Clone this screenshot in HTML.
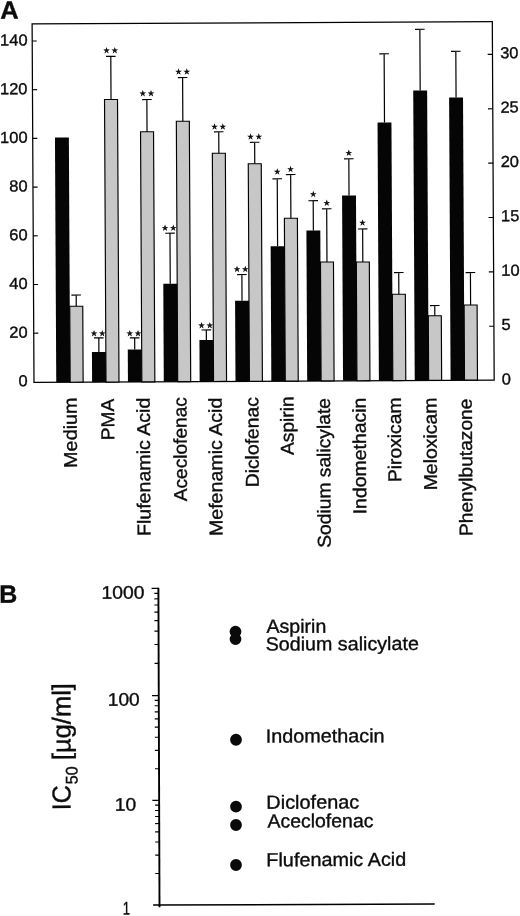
<!DOCTYPE html>
<html lang="en">
<head>
<meta charset="utf-8">
<title>Figure: NSAID effects (A) and IC50 values (B)</title>
<style>
html,body{margin:0;padding:0;background:#fff;}
body{width:520px;height:916px;overflow:hidden;}
svg{display:block;}
.t{font-family:"Liberation Sans", Arial, Helvetica, sans-serif;fill:#0c0c0c;stroke:#0c0c0c;stroke-width:0.36px;}
.s{font-family:"DejaVu Sans", "Liberation Sans", sans-serif;fill:#0c0c0c;stroke:#0c0c0c;stroke-width:0.5px;stroke-linejoin:miter;}
</style>
</head>
<body>
<svg width="520" height="916" viewBox="0 0 520 916">
<rect x="0" y="0" width="520" height="916" fill="#ffffff"/>
<g transform="rotate(-0.3 263.15 202.0)">
<rect x="33.05" y="22.75" width="460.20" height="358.50" fill="none" stroke="#000" stroke-width="1.25"/>
<text transform="translate(18.07 385.06) scale(1.0300 1)" x="-0.64" y="0" font-size="16" class="t">0</text>
<line x1="33.05" y1="332.00" x2="37.65" y2="332.00" stroke="#000" stroke-width="1.15"/>
<text transform="translate(9.34 336.36) scale(1.0300 1)" x="-0.80" y="0" font-size="16" class="t">20</text>
<line x1="33.05" y1="283.30" x2="37.65" y2="283.30" stroke="#000" stroke-width="1.15"/>
<text transform="translate(9.14 287.66) scale(1.0300 1)" x="-0.36" y="0" font-size="16" class="t">40</text>
<line x1="33.05" y1="234.60" x2="37.65" y2="234.60" stroke="#000" stroke-width="1.15"/>
<text transform="translate(9.85 238.96) scale(1.0300 1)" x="-0.80" y="0" font-size="16" class="t">60</text>
<line x1="33.05" y1="185.90" x2="37.65" y2="185.90" stroke="#000" stroke-width="1.15"/>
<text transform="translate(9.98 190.26) scale(1.0300 1)" x="-0.68" y="0" font-size="16" class="t">80</text>
<line x1="33.05" y1="137.20" x2="37.65" y2="137.20" stroke="#000" stroke-width="1.15"/>
<text transform="translate(1.59 141.56) scale(1.0300 1)" x="-1.20" y="0" font-size="16" class="t">100</text>
<line x1="33.05" y1="88.50" x2="37.65" y2="88.50" stroke="#000" stroke-width="1.15"/>
<text transform="translate(1.84 92.86) scale(1.0300 1)" x="-1.20" y="0" font-size="16" class="t">120</text>
<line x1="33.05" y1="39.80" x2="37.65" y2="39.80" stroke="#000" stroke-width="1.15"/>
<text transform="translate(2.10 44.17) scale(1.0300 1)" x="-1.20" y="0" font-size="16" class="t">140</text>
<text transform="translate(501.54 385.70) scale(1.0300 1)" x="-0.64" y="0" font-size="16" class="t">0</text>
<line x1="493.25" y1="327.44" x2="488.45" y2="327.44" stroke="#000" stroke-width="1.15"/>
<text transform="translate(501.54 331.33) scale(1.0300 1)" x="-0.64" y="0" font-size="16" class="t">5</text>
<line x1="493.25" y1="273.07" x2="488.45" y2="273.07" stroke="#000" stroke-width="1.15"/>
<text transform="translate(502.10 276.97) scale(1.0300 1)" x="-1.20" y="0" font-size="16" class="t">10</text>
<line x1="493.25" y1="218.71" x2="488.45" y2="218.71" stroke="#000" stroke-width="1.15"/>
<text transform="translate(502.10 222.61) scale(1.0300 1)" x="-1.20" y="0" font-size="16" class="t">15</text>
<line x1="493.25" y1="164.34" x2="488.45" y2="164.34" stroke="#000" stroke-width="1.15"/>
<text transform="translate(501.70 168.24) scale(1.0300 1)" x="-0.80" y="0" font-size="16" class="t">20</text>
<line x1="493.25" y1="109.98" x2="488.45" y2="109.98" stroke="#000" stroke-width="1.15"/>
<text transform="translate(501.70 113.88) scale(1.0300 1)" x="-0.80" y="0" font-size="16" class="t">25</text>
<line x1="493.25" y1="55.61" x2="488.45" y2="55.61" stroke="#000" stroke-width="1.15"/>
<text transform="translate(501.50 59.51) scale(1.0300 1)" x="-0.60" y="0" font-size="16" class="t">30</text>
<rect x="69.21" y="305.27" width="13.00" height="75.98" fill="#c7c7c7" stroke="#000" stroke-width="1.15"/>
<rect x="55.31" y="136.45" width="13.90" height="244.80" fill="#050505"/>
<path d="M75.71 305.27V294.02M70.91 294.02H80.51" stroke="#000" stroke-width="1.2" fill="none"/>
<rect x="105.06" y="98.71" width="13.00" height="282.54" fill="#c7c7c7" stroke="#000" stroke-width="1.15"/>
<rect x="91.16" y="351.14" width="13.90" height="30.11" fill="#050505"/>
<path d="M98.11 351.14V337.04M93.31 337.04H102.91" stroke="#000" stroke-width="1.2" fill="none"/>
<text x="93.26 101.56" y="334.89" text-anchor="middle" font-size="6.8" class="s">★★</text>
<path d="M111.56 98.71V55.51M106.76 55.51H116.36" stroke="#000" stroke-width="1.2" fill="none"/>
<text x="107.41 115.71" y="51.96" text-anchor="middle" font-size="6.8" class="s">★★</text>
<rect x="140.91" y="131.15" width="13.00" height="250.10" fill="#c7c7c7" stroke="#000" stroke-width="1.15"/>
<rect x="127.01" y="348.82" width="13.90" height="32.43" fill="#050505"/>
<path d="M133.96 348.82V337.22M129.16 337.22H138.76" stroke="#000" stroke-width="1.2" fill="none"/>
<text x="129.11 137.41" y="335.07" text-anchor="middle" font-size="6.8" class="s">★★</text>
<path d="M147.41 131.15V98.90M142.61 98.90H152.21" stroke="#000" stroke-width="1.2" fill="none"/>
<text x="143.26 151.56" y="95.15" text-anchor="middle" font-size="6.8" class="s">★★</text>
<rect x="176.76" y="120.84" width="13.00" height="260.41" fill="#c7c7c7" stroke="#000" stroke-width="1.15"/>
<rect x="162.86" y="283.26" width="13.90" height="97.99" fill="#050505"/>
<path d="M169.81 283.26V232.76M165.01 232.76H174.61" stroke="#000" stroke-width="1.2" fill="none"/>
<text x="164.96 173.26" y="229.76" text-anchor="middle" font-size="6.8" class="s">★★</text>
<path d="M183.26 120.84V77.09M178.46 77.09H188.06" stroke="#000" stroke-width="1.2" fill="none"/>
<text x="179.11 187.41" y="73.59" text-anchor="middle" font-size="6.8" class="s">★★</text>
<rect x="212.61" y="153.02" width="13.00" height="228.23" fill="#c7c7c7" stroke="#000" stroke-width="1.15"/>
<rect x="198.71" y="339.70" width="13.90" height="41.55" fill="#050505"/>
<path d="M205.66 339.70V329.70M200.86 329.70H210.46" stroke="#000" stroke-width="1.2" fill="none"/>
<text x="200.81 209.11" y="327.45" text-anchor="middle" font-size="6.8" class="s">★★</text>
<path d="M219.11 153.02V131.52M214.31 131.52H223.91" stroke="#000" stroke-width="1.2" fill="none"/>
<text x="214.96 223.26" y="128.77" text-anchor="middle" font-size="6.8" class="s">★★</text>
<rect x="248.46" y="163.71" width="13.00" height="217.54" fill="#c7c7c7" stroke="#000" stroke-width="1.15"/>
<rect x="234.56" y="300.64" width="13.90" height="80.61" fill="#050505"/>
<path d="M241.51 300.64V274.39M236.71 274.39H246.31" stroke="#000" stroke-width="1.2" fill="none"/>
<text x="236.66 244.96" y="271.39" text-anchor="middle" font-size="6.8" class="s">★★</text>
<path d="M254.96 163.71V142.21M250.16 142.21H259.76" stroke="#000" stroke-width="1.2" fill="none"/>
<text x="250.81 259.11" y="138.96" text-anchor="middle" font-size="6.8" class="s">★★</text>
<rect x="284.31" y="218.40" width="13.00" height="162.85" fill="#c7c7c7" stroke="#000" stroke-width="1.15"/>
<rect x="270.41" y="246.33" width="13.90" height="134.92" fill="#050505"/>
<path d="M277.36 246.33V178.83M272.56 178.83H282.16" stroke="#000" stroke-width="1.2" fill="none"/>
<text x="277.36" y="174.08" text-anchor="middle" font-size="6.8" class="s">★</text>
<path d="M290.81 218.40V174.65M286.01 174.65H295.61" stroke="#000" stroke-width="1.2" fill="none"/>
<text x="290.81" y="171.65" text-anchor="middle" font-size="6.8" class="s">★</text>
<rect x="320.16" y="262.33" width="13.00" height="118.92" fill="#c7c7c7" stroke="#000" stroke-width="1.15"/>
<rect x="306.26" y="230.76" width="13.90" height="150.49" fill="#050505"/>
<path d="M313.21 230.76V201.01M308.41 201.01H318.01" stroke="#000" stroke-width="1.2" fill="none"/>
<text x="313.21" y="196.76" text-anchor="middle" font-size="6.8" class="s">★</text>
<path d="M326.66 262.33V209.09M321.86 209.09H331.46" stroke="#000" stroke-width="1.2" fill="none"/>
<text x="326.66" y="205.59" text-anchor="middle" font-size="6.8" class="s">★</text>
<rect x="356.01" y="262.52" width="13.00" height="118.73" fill="#c7c7c7" stroke="#000" stroke-width="1.15"/>
<rect x="342.11" y="195.95" width="13.90" height="185.30" fill="#050505"/>
<path d="M349.06 195.95V159.20M344.26 159.20H353.86" stroke="#000" stroke-width="1.2" fill="none"/>
<text x="349.06" y="155.70" text-anchor="middle" font-size="6.8" class="s">★</text>
<path d="M362.51 262.52V229.52M357.71 229.52H367.31" stroke="#000" stroke-width="1.2" fill="none"/>
<text x="362.51" y="225.52" text-anchor="middle" font-size="6.8" class="s">★</text>
<rect x="391.86" y="294.96" width="13.00" height="86.29" fill="#c7c7c7" stroke="#000" stroke-width="1.15"/>
<rect x="377.96" y="123.14" width="13.90" height="258.11" fill="#050505"/>
<path d="M384.91 123.14V54.39M380.11 54.39H389.71" stroke="#000" stroke-width="1.2" fill="none"/>
<path d="M398.36 294.96V273.21M393.56 273.21H403.16" stroke="#000" stroke-width="1.2" fill="none"/>
<rect x="427.71" y="316.65" width="13.00" height="64.60" fill="#c7c7c7" stroke="#000" stroke-width="1.15"/>
<rect x="413.81" y="91.33" width="13.90" height="289.92" fill="#050505"/>
<path d="M420.76 91.33V30.08M415.96 30.08H425.56" stroke="#000" stroke-width="1.2" fill="none"/>
<path d="M434.21 316.65V306.40M429.41 306.40H439.01" stroke="#000" stroke-width="1.2" fill="none"/>
<rect x="463.56" y="306.08" width="13.00" height="75.17" fill="#c7c7c7" stroke="#000" stroke-width="1.15"/>
<rect x="449.66" y="98.52" width="13.90" height="282.73" fill="#050505"/>
<path d="M456.61 98.52V52.27M451.81 52.27H461.41" stroke="#000" stroke-width="1.2" fill="none"/>
<path d="M470.06 306.08V273.59M465.26 273.59H474.86" stroke="#000" stroke-width="1.2" fill="none"/>
<text transform="translate(75.62 465.27) rotate(-90) scale(1.0650 1)" x="-1.53" y="0" font-size="18.6" class="t">Medium</text>
<text transform="translate(113.01 437.97) rotate(-90) scale(1.0327 1)" x="-1.53" y="0" font-size="18.6" class="t">PMA</text>
<text transform="translate(148.76 533.91) rotate(-90) scale(1.0558 1)" x="-1.53" y="0" font-size="18.6" class="t">Flufenamic Acid</text>
<text transform="translate(185.43 500.85) rotate(-90) scale(1.0296 1)" x="-0.05" y="0" font-size="18.6" class="t">Aceclofenac</text>
<text transform="translate(220.76 534.28) rotate(-90) scale(1.0558 1)" x="-1.53" y="0" font-size="18.6" class="t">Mefenamic Acid</text>
<text transform="translate(257.26 485.72) rotate(-90) scale(1.0405 1)" x="-1.53" y="0" font-size="18.6" class="t">Diclofenac</text>
<text transform="translate(292.42 455.16) rotate(-90) scale(1.0348 1)" x="-0.05" y="0" font-size="18.6" class="t">Aspirin</text>
<text transform="translate(328.94 547.35) rotate(-90) scale(1.0361 1)" x="-0.84" y="0" font-size="18.6" class="t">Sodium salicylate</text>
<text transform="translate(364.62 513.04) rotate(-90) scale(1.0463 1)" x="-1.72" y="0" font-size="18.6" class="t">Indomethacin</text>
<text transform="translate(399.79 481.22) rotate(-90) scale(1.0360 1)" x="-1.53" y="0" font-size="18.6" class="t">Piroxicam</text>
<text transform="translate(435.50 489.66) rotate(-90) scale(1.0451 1)" x="-1.53" y="0" font-size="18.6" class="t">Meloxicam</text>
<text transform="translate(470.76 535.59) rotate(-90) scale(1.0318 1)" x="-1.53" y="0" font-size="18.6" class="t">Phenylbutazone</text>
<text transform="translate(1.96 17.38) scale(1.0209 1)" x="-0.62" y="0" font-size="25" font-weight="bold" class="t">A</text>
</g>
<g transform="rotate(-0.2 297.0 747.0)">
<path d="M158.95 587.22V906.87" fill="none" stroke="#000" stroke-width="1.9"/>
<path d="M152.55 904.57H434.20" fill="none" stroke="#000" stroke-width="1.55"/>
<line x1="158.95" y1="873.03" x2="154.85" y2="873.03" stroke="#000" stroke-width="1.15"/>
<line x1="158.95" y1="854.59" x2="154.85" y2="854.59" stroke="#000" stroke-width="1.15"/>
<line x1="158.95" y1="841.50" x2="154.85" y2="841.50" stroke="#000" stroke-width="1.15"/>
<line x1="158.95" y1="831.35" x2="154.85" y2="831.35" stroke="#000" stroke-width="1.15"/>
<line x1="158.95" y1="823.06" x2="154.85" y2="823.06" stroke="#000" stroke-width="1.15"/>
<line x1="158.95" y1="816.04" x2="154.85" y2="816.04" stroke="#000" stroke-width="1.15"/>
<line x1="158.95" y1="809.97" x2="154.85" y2="809.97" stroke="#000" stroke-width="1.15"/>
<line x1="158.95" y1="804.61" x2="154.85" y2="804.61" stroke="#000" stroke-width="1.15"/>
<line x1="158.95" y1="799.82" x2="152.15" y2="799.82" stroke="#000" stroke-width="1.25"/>
<line x1="158.95" y1="768.30" x2="154.85" y2="768.30" stroke="#000" stroke-width="1.15"/>
<line x1="158.95" y1="749.86" x2="154.85" y2="749.86" stroke="#000" stroke-width="1.15"/>
<line x1="158.95" y1="736.78" x2="154.85" y2="736.78" stroke="#000" stroke-width="1.15"/>
<line x1="158.95" y1="726.64" x2="154.85" y2="726.64" stroke="#000" stroke-width="1.15"/>
<line x1="158.95" y1="718.35" x2="154.85" y2="718.35" stroke="#000" stroke-width="1.15"/>
<line x1="158.95" y1="711.34" x2="154.85" y2="711.34" stroke="#000" stroke-width="1.15"/>
<line x1="158.95" y1="705.27" x2="154.85" y2="705.27" stroke="#000" stroke-width="1.15"/>
<line x1="158.95" y1="699.91" x2="154.85" y2="699.91" stroke="#000" stroke-width="1.15"/>
<line x1="158.95" y1="695.12" x2="152.15" y2="695.12" stroke="#000" stroke-width="1.25"/>
<line x1="158.95" y1="662.85" x2="154.85" y2="662.85" stroke="#000" stroke-width="1.15"/>
<line x1="158.95" y1="643.97" x2="154.85" y2="643.97" stroke="#000" stroke-width="1.15"/>
<line x1="158.95" y1="630.58" x2="154.85" y2="630.58" stroke="#000" stroke-width="1.15"/>
<line x1="158.95" y1="620.19" x2="154.85" y2="620.19" stroke="#000" stroke-width="1.15"/>
<line x1="158.95" y1="611.70" x2="154.85" y2="611.70" stroke="#000" stroke-width="1.15"/>
<line x1="158.95" y1="604.52" x2="154.85" y2="604.52" stroke="#000" stroke-width="1.15"/>
<line x1="158.95" y1="598.31" x2="154.85" y2="598.31" stroke="#000" stroke-width="1.15"/>
<line x1="158.95" y1="592.82" x2="154.85" y2="592.82" stroke="#000" stroke-width="1.15"/>
<line x1="158.95" y1="587.92" x2="152.15" y2="587.92" stroke="#000" stroke-width="1.25"/>
<text transform="translate(123.17 913.89) scale(0.7178 1)" x="-1.36" y="0" font-size="18.2" class="t">1</text>
<text transform="translate(116.08 810.07) scale(1.0576 1)" x="-1.36" y="0" font-size="18.2" class="t">10</text>
<text transform="translate(109.35 705.04) scale(1.0530 1)" x="-1.36" y="0" font-size="18.2" class="t">100</text>
<text transform="translate(103.52 598.12) scale(1.0611 1)" x="-1.36" y="0" font-size="18.2" class="t">1000</text>
<circle cx="235.90" cy="631.39" r="5.9" fill="#0a0a0a"/>
<text transform="translate(266.90 632.69) scale(1.0306 1)" x="-0.05" y="0" font-size="19" class="t">Aspirin</text>
<circle cx="235.88" cy="638.89" r="5.9" fill="#0a0a0a"/>
<text transform="translate(266.84 650.39) scale(1.0366 1)" x="-0.85" y="0" font-size="19" class="t">Sodium salicylate</text>
<circle cx="236.03" cy="739.54" r="5.9" fill="#0a0a0a"/>
<text transform="translate(267.52 742.40) scale(1.0436 1)" x="-1.76" y="0" font-size="19" class="t">Indomethacin</text>
<circle cx="235.79" cy="806.39" r="5.9" fill="#0a0a0a"/>
<text transform="translate(267.78 808.65) scale(1.0480 1)" x="-1.57" y="0" font-size="19" class="t">Diclofenac</text>
<circle cx="235.73" cy="824.79" r="5.9" fill="#0a0a0a"/>
<text transform="translate(267.22 827.40) scale(1.0249 1)" x="-0.05" y="0" font-size="19" class="t">Aceclofenac</text>
<circle cx="235.59" cy="864.79" r="5.9" fill="#0a0a0a"/>
<text transform="translate(267.58 866.15) scale(1.0431 1)" x="-1.57" y="0" font-size="19" class="t">Flufenamic Acid</text>
<text transform="translate(70.39 807.21) rotate(-90) scale(0.9665 1)" x="-2.40" y="0" font-size="26" class="t">IC</text>
<text transform="translate(77.37 782.83) rotate(-90) scale(0.9570 1)" x="-0.67" y="0" font-size="16.8" class="t">50</text>
<text transform="translate(70.56 757.41) rotate(-90) scale(0.9798 1)" x="-1.88" y="0" font-size="26" class="t">[µg/ml]</text>
<text transform="translate(1.51 601.72) scale(1.0000 1)" x="-1.69" y="0" font-size="25" font-weight="bold" class="t">B</text>
</g>
</svg>
</body>
</html>
